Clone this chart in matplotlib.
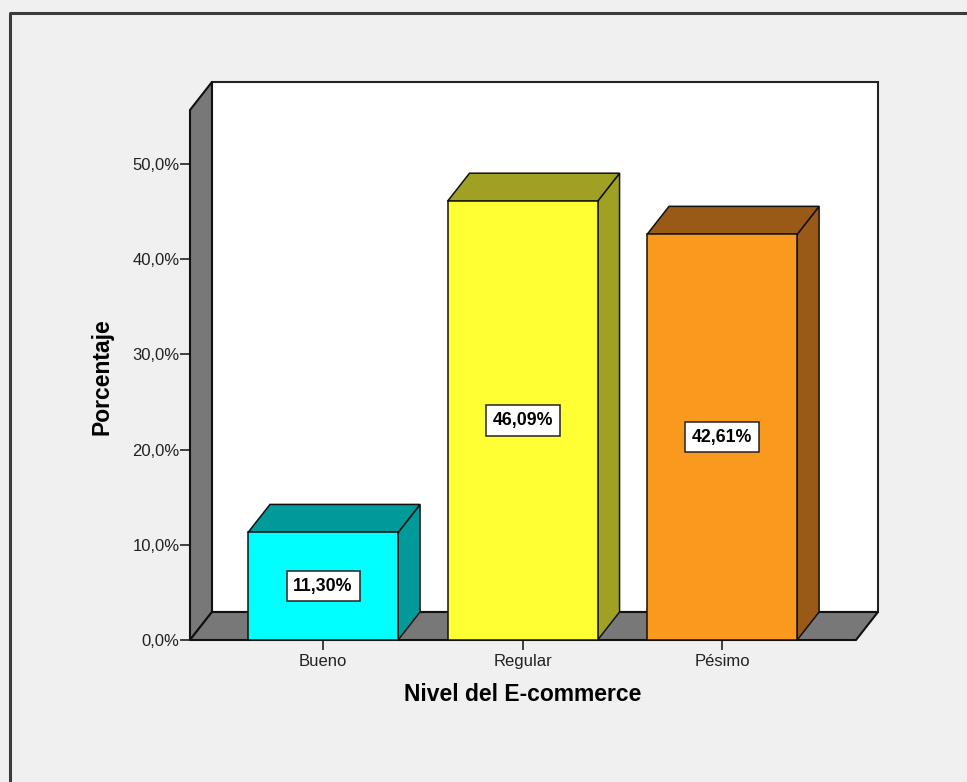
import matplotlib
matplotlib.use('Agg')
import matplotlib.pyplot as plt
from matplotlib.patches import Polygon, Rectangle
from matplotlib.lines import Line2D
from matplotlib.ticker import FuncFormatter

plt.rcParams['font.family'] = ['Liberation Sans', 'DejaVu Sans']

# datos
niveles = ['Bueno', 'Regular', 'Pésimo']
porcentajes = [11.30, 46.09, 42.61]
colores_frente = ['#00ffff', '#ffff33', '#f99a1f']
colores_lado = ['#009a9a', '#a0a024', '#9a5a17']
yticks = [0, 10, 20, 30, 40, 50]

fondo = '#f0f0f0'
gris = '#787878'

fig = plt.figure(figsize=(9.67, 7.82), dpi=100, facecolor=fondo)
ax = fig.add_axes([190 / 967, 142 / 782, 666 / 967, 530 / 782])
ax.set_facecolor('none')

x0, x1 = -0.667, 2.671
ytop = 55.67
dx, dy = 0.110, 2.94      # profundidad del efecto 3D
ancho = 0.752

ax.set_xlim(x0, x1)
ax.set_ylim(0, ytop)

# pared del fondo, pared izquierda y suelo
ax.add_patch(Rectangle((x0 + dx, dy), x1 - x0, ytop, facecolor='white',
                       edgecolor='#222222', lw=1.5, clip_on=False, zorder=1))
ax.add_patch(Polygon([(x0, 0), (x0 + dx, dy), (x0 + dx, ytop + dy), (x0, ytop)],
                     closed=True, facecolor=gris, edgecolor='#111111', lw=1.5,
                     clip_on=False, zorder=2))
ax.add_patch(Polygon([(x0, 0), (x1, 0), (x1 + dx, dy), (x0 + dx, dy)],
                     closed=True, facecolor=gris, edgecolor='#111111', lw=1.5,
                     clip_on=False, zorder=2))

# barras 3D
for i, (v, cf, cl) in enumerate(zip(porcentajes, colores_frente, colores_lado)):
    a, b = i - ancho / 2, i + ancho / 2
    ax.add_patch(Polygon([(b, 0), (b + dx, dy), (b + dx, v + dy), (b, v)],
                         closed=True, facecolor=cl, edgecolor='#111111', lw=1.1,
                         clip_on=False, zorder=3))
    ax.add_patch(Polygon([(a, v), (a + dx, v + dy), (b + dx, v + dy), (b, v)],
                         closed=True, facecolor=cl, edgecolor='#111111', lw=1.1,
                         clip_on=False, zorder=3))
    ax.add_patch(Rectangle((a, 0), ancho, v, facecolor=cf, edgecolor='#111111',
                           lw=1.1, clip_on=False, zorder=4))
    etiqueta = f'{v:.2f}%'.replace('.', ',')
    ax.text(i, v / 2, etiqueta, ha='center', va='center', fontsize=12.8,
            fontweight='bold', zorder=5,
            bbox=dict(boxstyle='square,pad=0.38', facecolor='white',
                      edgecolor='#222222', lw=1.1))

for s in ax.spines.values():
    s.set_visible(False)

ax.set_yticks(yticks)
ax.yaxis.set_major_formatter(FuncFormatter(lambda y, _: f'{y:.1f}%'.replace('.', ',')))
ax.set_xticks(range(len(niveles)))
ax.set_xticklabels(niveles)
ax.tick_params(axis='y', length=7, width=1.2, pad=0.5, labelsize=12, colors='#222222')
ax.tick_params(axis='x', length=7, width=1.2, pad=3, labelsize=12, colors='#222222')

ax.set_ylabel('Porcentaje', fontsize=16.5, fontweight='bold')
ax.yaxis.set_label_coords(-0.115, 0.496)
ax.set_xlabel('Nivel del E-commerce', fontsize=16.5, fontweight='bold')
ax.xaxis.set_label_coords(0.4993, -0.082)

# marco exterior
fig.add_artist(Line2D([10 / 967, 10 / 967, 1.0], [0.0, 1 - 13 / 782, 1 - 13 / 782],
                      transform=fig.transFigure, color='#3c3c3c', lw=2.2))

fig.savefig('out.png', dpi=100, facecolor=fondo)
